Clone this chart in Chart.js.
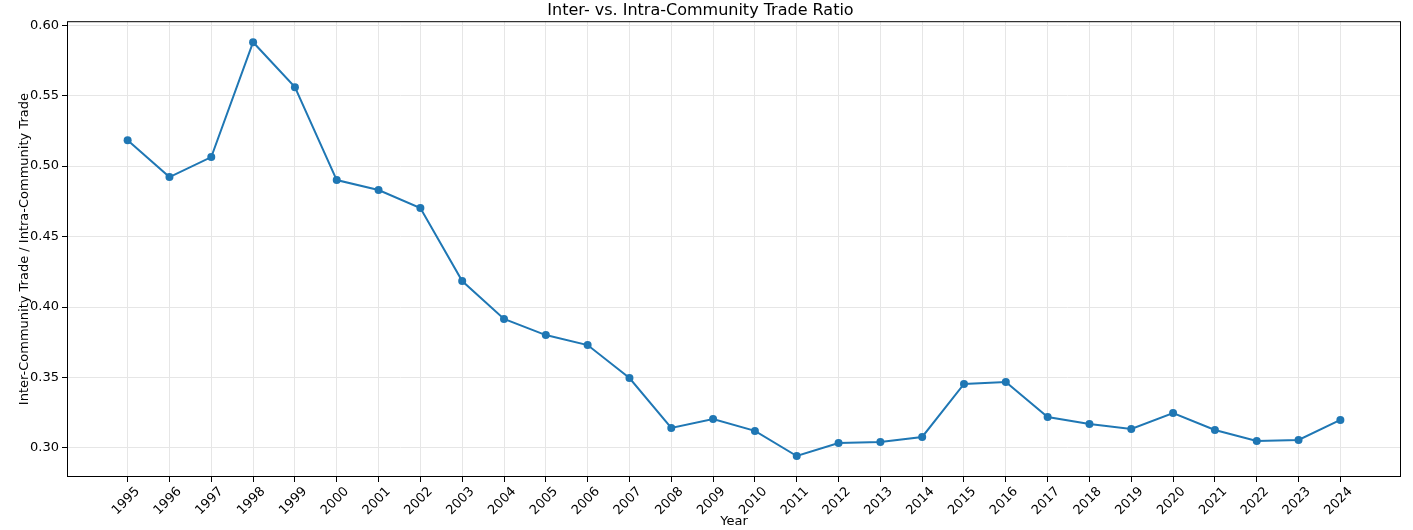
<!DOCTYPE html>
<html>
<head>
<meta charset="utf-8">
<script src="https://cdn.jsdelivr.net/npm/chart.js@4/dist/chart.umd.min.js"></script>
<style>
  html, body { margin: 0; padding: 0; background: #fff; }
  #wrap { width: 1413px; height: 530px; position: relative; }
</style>
</head>
<body>
<div id="wrap"><canvas id="myChart"></canvas></div>
<script>
// data
const years = [1995, 1996, 1997, 1998, 1999, 2000, 2001, 2002, 2003, 2004,
  2005, 2006, 2007, 2008, 2009, 2010, 2011, 2012, 2013, 2014,
  2015, 2016, 2017, 2018, 2019, 2020, 2021, 2022, 2023, 2024];
const ratio = [0.5184, 0.4922, 0.5064, 0.5879, 0.5560, 0.4901, 0.4830, 0.4702, 0.4184, 0.3915,
  0.3801, 0.3730, 0.3496, 0.3142, 0.3206, 0.3121, 0.2943, 0.3035, 0.3043, 0.3078,
  0.3454, 0.3468, 0.3220, 0.3170, 0.3135, 0.3248, 0.3128, 0.3050, 0.3057, 0.3199];
const yTicks = [0.30, 0.35, 0.40, 0.45, 0.50, 0.55, 0.60];

const font = 'DejaVu Sans';

// full black box round the plot, like matplotlib spines
const frame = {
  id: 'frame',
  afterDraw(chart) {
    const a = chart.chartArea;
    const c = chart.ctx;
    c.save();
    c.strokeStyle = '#000';
    c.lineWidth = 1;
    c.strokeRect(a.left + 0.5, a.top + 0.5, a.right - a.left - 1, a.bottom - a.top - 1);
    c.restore();
  }
};

const ctx = document.getElementById('myChart');
new Chart(ctx, {
  type: 'line',
  data: {
    datasets: [{
      data: years.map((y, i) => ({ x: y, y: ratio[i] })),
      borderColor: '#1f77b4',
      backgroundColor: '#1f77b4',
      borderWidth: 2,
      pointRadius: 4,
      pointHoverRadius: 4,
      pointBorderWidth: 0,
      tension: 0
    }]
  },
  options: {
    responsive: true,
    maintainAspectRatio: false,
    animation: false,
    layout: { padding: { top: 0, right: 12, bottom: 0, left: 0 } },
    plugins: {
      legend: { display: false },
      tooltip: { enabled: false },
      title: {
        display: true,
        text: 'Inter- vs. Intra-Community Trade Ratio',
        color: '#000',
        font: { family: font, size: 16, weight: 'normal' },
        padding: { top: 1, bottom: 1 }
      }
    },
    scales: {
      x: {
        type: 'linear',
        min: 1993.55,
        max: 2025.45,
        afterBuildTicks: axis => { axis.ticks = years.map(v => ({ value: v })); },
        afterFit: axis => { axis.height = 53; },
        ticks: {
          color: '#000',
          font: { family: font, size: 13 },
          minRotation: 45,
          maxRotation: 45,
          labelOffset: 10,
          padding: 2,
          autoSkip: false,
          callback: v => String(v)
        },
        grid: { color: '#e6e6e6', lineWidth: 1, tickColor: '#000', tickLength: 5 },
        border: { display: false },
        title: {
          display: true,
          text: 'Year',
          color: '#000',
          font: { family: font, size: 13 },
          padding: 1
        }
      },
      y: {
        min: 0.2794,
        max: 0.6028,
        afterBuildTicks: axis => { axis.ticks = yTicks.map(v => ({ value: v })); },
        afterFit: axis => { axis.width = 67; },
        ticks: {
          color: '#000',
          font: { family: font, size: 13 },
          padding: 3,
          callback: v => v.toFixed(2)
        },
        grid: { color: '#e6e6e6', lineWidth: 1, tickColor: '#000', tickLength: 5 },
        border: { display: false },
        title: {
          display: true,
          text: 'Inter-Community Trade / Intra-Community Trade',
          color: '#000',
          font: { family: font, size: 13 },
          padding: 17
        }
      }
    }
  },
  plugins: [frame]
});
</script>
</body>
</html>
